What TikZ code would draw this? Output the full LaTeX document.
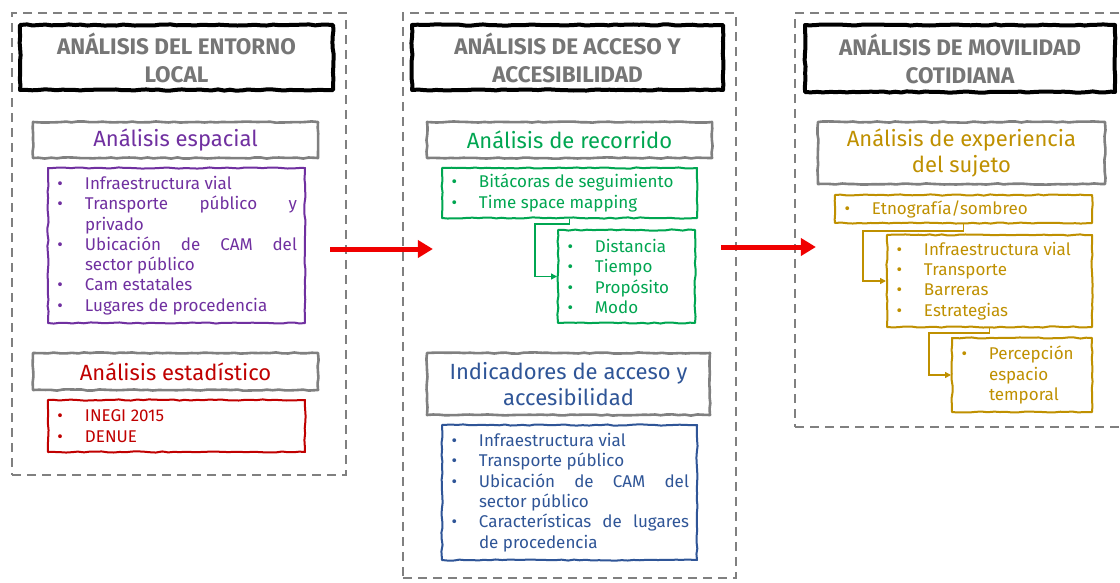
\documentclass[tikz,border=0pt]{standalone}
\usepackage{fontspec}
\setmainfont{Fira Sans}
\usetikzlibrary{arrows.meta,decorations.pathmorphing,calc}
\definecolor{dgray}{RGB}{128,128,128}
\definecolor{tgray}{RGB}{118,118,118}
\definecolor{purp}{RGB}{112,48,160}
\definecolor{dred}{RGB}{192,0,0}
\definecolor{grn}{RGB}{0,166,81}
\definecolor{blu}{RGB}{47,85,151}
\definecolor{gold}{RGB}{191,144,0}
\definecolor{arrowred}{RGB}{240,0,0}
\newlength\bulind \setlength\bulind{29pt}
\newcommand{\myitem}[1]{\noindent\hangindent=\bulind\hangafter=1\makebox[\bulind][l]{\hspace{1.5pt}\textbullet}#1\par}
\tikzset{
 sk/.style={decorate, decoration={random steps, segment length=6pt, amplitude=0.6pt}, line join=round},
 colbox/.style={draw=dgray, line width=2.2pt, dash pattern=on 9pt off 6pt},
 titlebox/.style={sk, draw=black, line width=4pt, font=\fontsize{22.5}{28}\selectfont\bfseries, text=tgray, align=center, inner sep=0pt},
 headbox/.style={sk, draw=dgray, line width=2.6pt, font=\fontsize{22}{26.5}\selectfont, align=center, inner sep=0pt},
 listbox/.style={sk, line width=2pt, font=\fontsize{17}{20.3}\selectfont, align=justify, inner xsep=8pt, inner ysep=0pt},
 bigarrow/.style={draw=arrowred, line width=5pt, -{Triangle[length=15pt,width=17pt]}},
 conn/.style={line width=1.6pt, -{Triangle[length=6pt,width=6pt]}},
}
\begin{document}
\begin{tikzpicture}[x=1pt,y=-1pt]
\pgfmathsetseed{7}
\useasboundingbox (0,0) rectangle (1120,582);
\fill[white] (0,0) rectangle (1120,582);
% columns
\node[colbox, minimum width=334pt, minimum height=462pt] (col1) at (179,244) {};
\node[colbox, minimum width=333pt, minimum height=565pt] (col2) at (569.5,295.5) {};
\node[colbox, minimum width=360pt, minimum height=414pt] (col3) at (975,220) {};
% arrows between columns
\coordinate (a1s) at ($(col1.east)+(-17,5)$);
\coordinate (a1e) at ($(col2.west |- a1s)+(31,0)$);
\coordinate (a2s) at ($(col2.east)+(-16,-48.5)$);
\coordinate (a2e) at ($(col3.west |- a2s)+(22,0)$);
\draw[bigarrow] (a1s) -- (a1e);
\draw[bigarrow] (a2s) -- (a2e);
% column 1
\node[titlebox, minimum width=313pt, minimum height=65pt] (t1) at (176.5,57.5) {ANÁLISIS DEL ENTORNO\\LOCAL};
\node[headbox, text=purp, minimum width=285pt, minimum height=36pt] (h1) at (175.5,140) {Análisis espacial};
\node[listbox, draw=purp, text=purp, text width=241pt, minimum height=155pt] (l1) at (176.5,245.5) {%
\myitem{Infraestructura vial}
\myitem{Transporte público y\linebreak privado}
\myitem{Ubicación de CAM del\linebreak sector público}
\myitem{Cam estatales}
\myitem{Lugares de procedencia}};
\node[headbox, text=dred, minimum width=285pt, minimum height=37pt] (h2) at (175.5,371.5) {Análisis estadístico};
\node[listbox, draw=dred, text=dred, text width=241pt, minimum height=52pt] (l2) at (176.5,426) {%
\myitem{INEGI 2015}
\myitem{DENUE}};
% column 2
\node[titlebox, minimum width=311pt, minimum height=65pt] (t2) at (567.5,57.5) {ANÁLISIS DE ACCESO Y\\ACCESIBILIDAD};
\node[headbox, text=grn, minimum width=285pt, minimum height=36pt] (h3) at (569.5,140) {Análisis de recorrido};
\node[listbox, draw=grn, text=grn, text width=239pt, minimum height=50pt] (g1) at (569.5,193) {%
\myitem{Bitácoras de seguimiento}
\myitem{Time space mapping}};
\node[listbox, draw=grn, text=grn, text width=121pt, minimum height=93pt] (g2) at (626.5,276.5) {%
\myitem{Distancia}
\myitem{Tiempo}
\myitem{Propósito}
\myitem{Modo}};
\draw[conn, draw=grn] (g1.south) -- ++(0,5) -| ([xshift=-22pt]g2.west) -- (g2.west);
\node[headbox, text=blu, minimum width=283pt, minimum height=62pt] (h4) at (568.5,384) {Indicadores de acceso y\\accesibilidad};
\node[listbox, draw=blu, text=blu, text width=239pt, minimum height=135pt] (b1) at (569.5,492.5) {%
\myitem{Infraestructura vial}
\myitem{Transporte público}
\myitem{Ubicación de CAM del\linebreak sector público}
\myitem{Características de lugares\linebreak de procedencia}};
% column 3
\node[titlebox, minimum width=310pt, minimum height=67pt] (t3) at (960,58.5) {ANÁLISIS DE MOVILIDAD\\COTIDIANA};
\node[headbox, text=gold, minimum width=287pt, minimum height=62pt] (h5) at (961.5,153) {Análisis de experiencia\\del sujeto};
\node[listbox, draw=gold, text=gold, text width=241pt, minimum height=28pt] (y1) at (963.5,209) {%
\myitem{Etnografía/sombreo}};
\node[listbox, draw=gold, text=gold, text width=189pt, minimum height=92pt] (y2) at (989.5,281) {%
\myitem{Infraestructura vial}
\myitem{Transporte}
\myitem{Barreras}
\myitem{Estrategias}};
\node[listbox, draw=gold, text=gold, text width=124pt, minimum height=74pt] (y3) at (1022,375) {%
\myitem{Percepción\hfil\break espacio\hfil\break temporal}};
\draw[conn, draw=gold] (y1.south) -- ++(0,7) -| ([xshift=-23pt]y2.west) -- (y2.west);
\draw[conn, draw=gold] (y2.south) -- ++(0,5) -| ([xshift=-22pt]y3.west) -- (y3.west);
\end{tikzpicture}
\end{document}
